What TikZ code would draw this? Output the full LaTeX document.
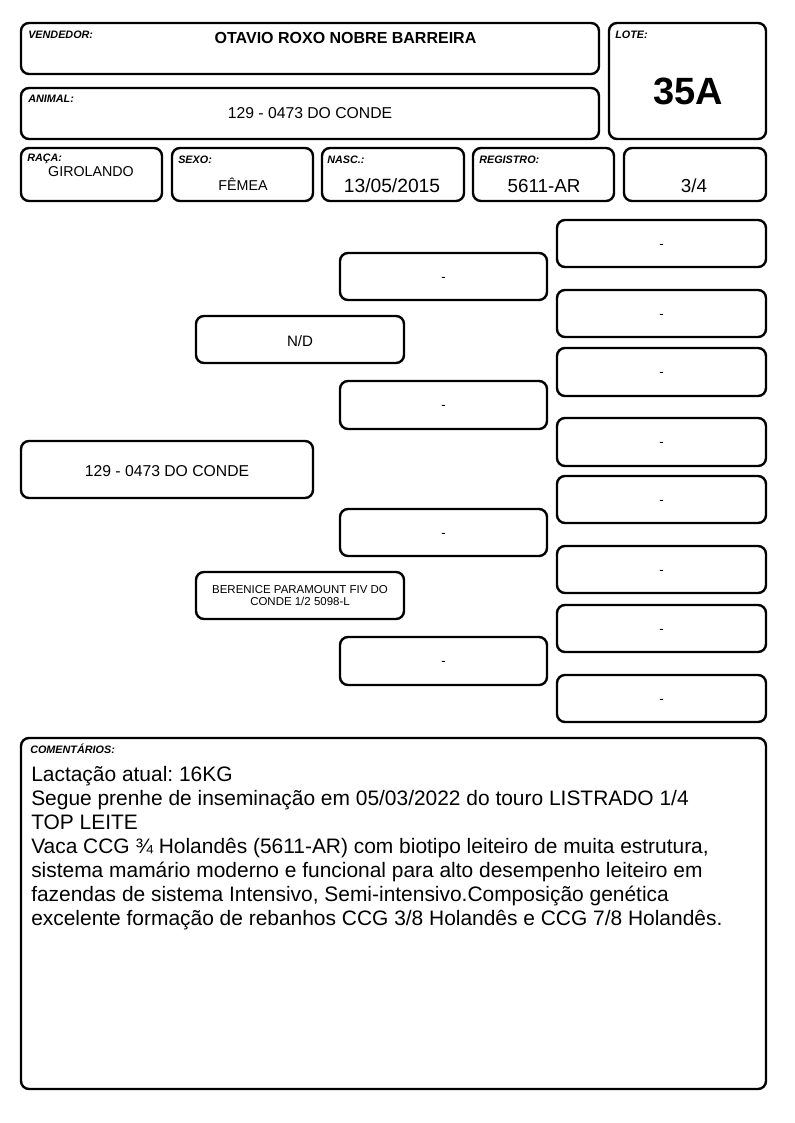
\documentclass[tikz,border=0pt]{standalone}
\usepackage{fontspec}
\setmainfont{Liberation Sans}
\frenchspacing
\newcommand\fs[1]{\fontsize{#1pt}{1.15\dimexpr#1pt\relax}\selectfont}
\begin{document}
\begin{tikzpicture}[x=0.75pt,y=-0.75pt,
  box/.style={draw=black,line width=1.8pt,rounded corners=6pt,inner sep=0pt,outer sep=0pt},
  lbl/.style={font=\fs{8.1}\bfseries\itshape,inner sep=0pt,anchor=north west},
  txt/.style={inner sep=0pt,align=center}]
\newcommand\pbox[5]{\node[box, minimum width={(#4-#2)*0.75pt}, minimum height={(#5-#3)*0.75pt}] (#1) at ({(#2+#4)/2},{(#3+#5)/2}) {};}
\useasboundingbox[fill=white] (0,0) rectangle (794,1123);
% header
\pbox{vend}{21}{23}{599}{74}
\pbox{anim}{21}{88}{599}{139}
\pbox{lote}{609}{23}{766}{139}
\pbox{raca}{21}{148}{162}{201}
\pbox{sexo}{172}{148}{313}{201}
\pbox{nasc}{322}{148}{464}{201}
\pbox{regi}{473}{148}{614}{201}
\pbox{frac}{624}{148}{766}{201}
\node[lbl] (lvend) at (28,31) {VENDEDOR:};
\node[lbl] (lanim) at (28,95) {ANIMAL:};
\node[lbl] (llote) at (615,31) {LOTE:};
\node[lbl] (lraca) at (27,154) {RAÇA:};
\node[lbl] (lsexo) at (178,156) {SEXO:};
\node[lbl] (lnasc) at (327,156) {NASC.:};
\node[lbl] (lregi) at (479,156) {REGISTRO:};
\node[txt,font=\fs{12}\bfseries] (tvend) at (345.5,38) {OTAVIO ROXO NOBRE BARREIRA};
\node[txt,font=\fs{11.8}] (tanim) at (310,113) {129 - 0473 DO CONDE};
\node[txt,font=\fs{28.5}\bfseries] (tlote) at (688,91) {35A};
\node[txt,font=\fs{10.7}] (traca) at (91,172) {GIROLANDO};
\node[txt,font=\fs{10.7}] (tsexo) at (243,184) {FÊMEA};
\node[txt,font=\fs{14.4}] (tnasc) at (392,186) {13/05/2015};
\node[txt,font=\fs{14.1}] (tregi) at (544,186) {5611-AR};
\node[txt,font=\fs{14.1}] (tfrac) at (694,186) {3/4};
% pedigree
\pbox{p0}{21}{441}{313}{498}
\pbox{p1}{196}{316}{404}{363}
\pbox{p2}{196}{572}{404}{619}
\pbox{m1}{340}{253}{547}{300}
\pbox{m2}{340}{381}{547}{429}
\pbox{m3}{340}{509}{547}{556}
\pbox{m4}{340}{637}{547}{685}
\pbox{r1}{557}{220}{766}{267}
\pbox{r2}{557}{290}{766}{337}
\pbox{r3}{557}{348}{766}{396}
\pbox{r4}{557}{418}{766}{466}
\pbox{r5}{557}{476}{766}{523}
\pbox{r6}{557}{546}{766}{593}
\pbox{r7}{557}{605}{766}{652}
\pbox{r8}{557}{675}{766}{722}
\node[txt,font=\fs{11.8}] (tp0) at ([yshift=-1.5pt]p0.center) {129 - 0473 DO CONDE};
\node[txt,font=\fs{11.3}] (tp1) at ([yshift=-1pt]p1.center) {N/D};
\node[txt,font=\fs{8.6}] (tp2) at (p2) {BERENICE PARAMOUNT FIV DO\\[-1pt]CONDE 1/2 5098-L};
\foreach \n in {m1,m2,m3,m4,r1,r2,r3,r4,r5,r6,r7,r8}{
  \node[txt,font=\fs{10}] (t\n) at ([yshift=-2pt]\n.center) {-};
}
% comments
\pbox{com}{21}{738}{766}{1089}
\node[lbl] (lcom) at (30,744) {COMENTÁRIOS:};
\node[inner sep=0pt,anchor=north west,align=left,font=\fontsize{15.7pt}{18pt}\selectfont] (tcom) at (31,766.5) {Lactação atual: 16KG\\
Segue prenhe de inseminação em 05/03/2022 do touro LISTRADO 1/4\\
TOP LEITE\\
Vaca CCG ¾ Holandês (5611-AR) com biotipo leiteiro de muita estrutura,\\
sistema mamário moderno e funcional para alto desempenho leiteiro em\\
fazendas de sistema Intensivo, Semi-intensivo.Composição genética\\
excelente formação de rebanhos CCG 3/8 Holandês e CCG 7/8 Holandês.};
\end{tikzpicture}
\end{document}
